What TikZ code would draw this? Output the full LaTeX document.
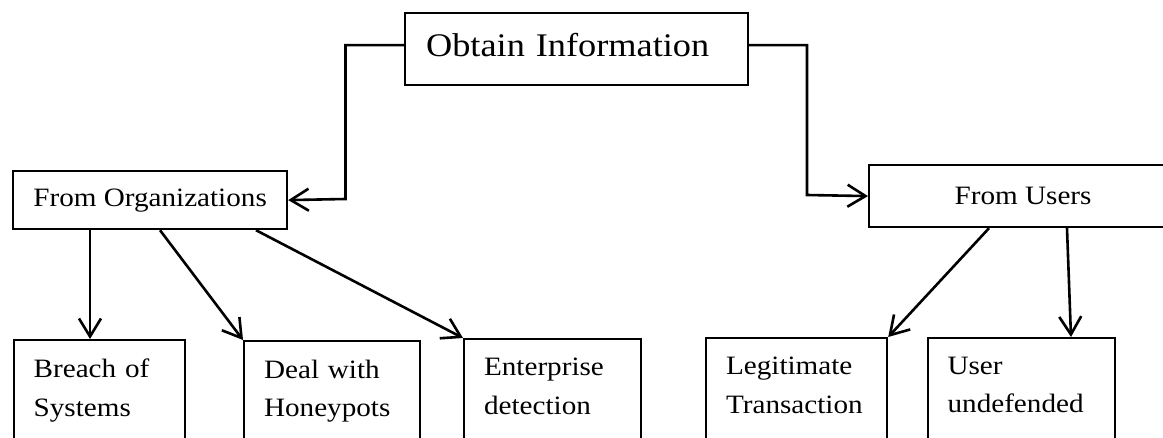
\documentclass[tikz,border=0pt]{standalone}
\usepackage{fontspec}
\setmainfont{Liberation Serif}[FakeStretch=1.1]
\usetikzlibrary{arrows.meta}

\begin{document}
\begin{tikzpicture}[x=0.5pt,y=-0.5pt,
  >={Straight Barb[length=9pt,width=11pt]},
  box/.style={draw,line width=1.1pt,anchor=north west},
  head/.style={box,align=center,font=\fontsize{13.25}{16}\selectfont},
  leaf/.style={box,align=left,text width=#1,inner xsep=10pt,inner ysep=9.5pt,
    execute at end node={\endgraf\vspace*{24pt}},
    font=\fontsize{13.25}{19.2}\selectfont},
  link/.style={->,line width=1.3pt}]
\useasboundingbox (0,0) rectangle (1163,438);
\clip (0,0) rectangle (1163,438);

% root
\node [box,align=left,text width=150.5pt,inner xsep=10.5pt,
  minimum height=36pt,text height=11pt,text depth=4pt,
  font=\fontsize{16.5}{20}\selectfont] (info) at (404,12) {Obtain Information};

% second level
\node [head,minimum width=137pt,minimum height=29pt] (org) at (12,170) {From Organizations};
\node [head,minimum width=154pt,minimum height=31pt] (users) at (868,164) {From Users};

% leaves
\node [leaf=65.7pt] (breach) at (12.6,339) {Breach of\\Systems};
\node [leaf=68pt] (deal) at (243,340) {Deal with\\Honeypots};
\node [leaf=68.5pt] (enterprise) at (463,338) {Enterprise\\detection};
\node [leaf=70.5pt] (legit) at (705,337) {Legitimate\\Transaction};
\node [leaf=73.75pt] (undef) at (926.5,337) {User\\undefended};

\coordinate (kneeL) at (345.5,199);
\coordinate (kneeR) at (807,195);

\draw [link] ([yshift=2pt]info.west) -| (kneeL) -- (org.east);
\draw [link] ([yshift=2pt]info.east) -| (kneeR) -- (users.west);

\draw [link] ([xshift=39pt]org.south west) -- ([xshift=38.7pt]breach.north west);
\draw [link] ([xshift=74pt]org.south west) -- (deal.north west);
\draw [link] ([xshift=122pt]org.south west) -- (enterprise.north west);

\draw [link] ([xshift=60.5pt]users.south west) -- (legit.north east);
\draw [link] ([xshift=99.5pt]users.south west) -- ([xshift=72.25pt]undef.north west);

\end{tikzpicture}
\end{document}
